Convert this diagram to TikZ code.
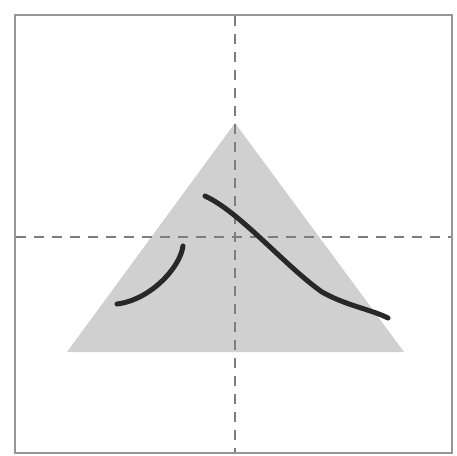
\documentclass[tikz,border=0pt]{standalone}
\usepackage{tikz}
\usetikzlibrary{calc}
\definecolor{framegray}{RGB}{150,150,150}
\definecolor{guidegray}{RGB}{125,125,125}
\definecolor{trifill}{RGB}{208,208,208}
\definecolor{inkblack}{RGB}{40,40,40}

\begin{document}
\begin{tikzpicture}[x=1pt,y=-1pt]
	\useasboundingbox (0,0) rectangle (457,455);
	\draw[framegray,line width=2pt] (15,15) rectangle (452,453);
	\fill[trifill] (235,123)--(404,352)--(67,352)--cycle;
	\draw[guidegray,line width=1.5pt,dash pattern=on 10pt off 8pt] (235,16)--(235,452);
	\draw[guidegray,line width=1.5pt,dash pattern=on 10pt off 8pt] (16,237)--(451,237);
	\draw[inkblack,line width=5pt,line cap=round] (205,196) .. controls (240,212) and (285,266) .. (322,292) .. controls (347,306) and (370,309) .. (388,318);
	\draw[inkblack,line width=5pt,line cap=round] (183,246) .. controls (180,268) and (150,300) .. (117,304);
\end{tikzpicture}
\end{document}
